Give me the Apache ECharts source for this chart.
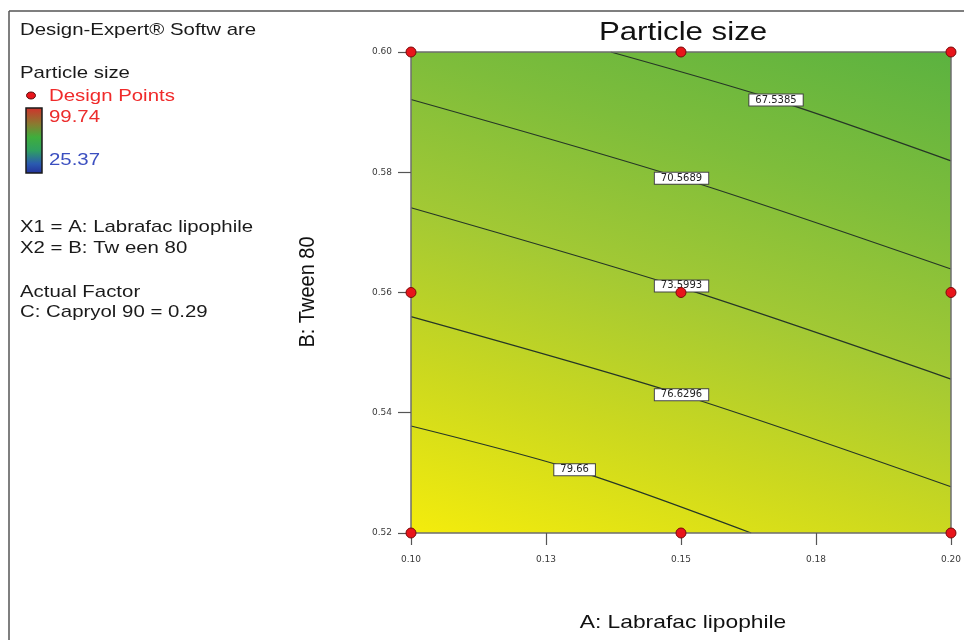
<!DOCTYPE html>
<html>
<head>
<meta charset="utf-8">
<style>
  html, body { margin: 0; padding: 0; background: #fff; }
  #chart { width: 964px; height: 640px; }
</style>
<script src="https://cdn.jsdelivr.net/npm/echarts/dist/echarts.min.js"></script>
</head>
<body>
<div id="chart"></div>
<script>
// Factor ranges and axis ticks
const xRange = [0.10, 0.20];
const yRange = [0.52, 0.60];
const xTickLabels = ['0.10', '0.13', '0.15', '0.18', '0.20'];
const yTickLabels = ['0.52', '0.54', '0.56', '0.58', '0.60'];

// Response scale shown in the side legend
const responseHigh = '99.74';
const responseLow = '25.37';

// Contour levels of Particle size, each traced as (A, B) points
const contourLevels = ['67.5385', '70.5689', '73.5993', '76.6296', '79.66'];
const contour1 = [[0.1370, 0.6000], [0.1676, 0.5920], [0.2000, 0.5819]];
const contour2 = [[0.1000, 0.5921], [0.1501, 0.5790], [0.2000, 0.5639]];
const contour3 = [[0.1000, 0.5741], [0.1501, 0.5608], [0.2000, 0.5456]];
const contour4 = [[0.1000, 0.5560], [0.1501, 0.5430], [0.2000, 0.5277]];
const contour5 = [[0.1000, 0.5378], [0.1303, 0.5305], [0.1630, 0.5200]];
const contourLabelAt = [[0.1676, 0.5920], [0.1501, 0.5790], [0.1501, 0.5611], [0.1501, 0.5430], [0.1303, 0.5305]];

// Design points (A: Labrafac lipophile, B: Tween 80)
const designPoints = [
  [0.10, 0.60], [0.15, 0.60], [0.20, 0.60],
  [0.10, 0.56], [0.15, 0.56], [0.20, 0.56],
  [0.10, 0.52], [0.15, 0.52], [0.20, 0.52]
];

const contours = [contour1, contour2, contour3, contour4, contour5];
const SANS = '"Liberation Sans", Arial, sans-serif';
const STRETCH = 1.2;

const chart = echarts.init(document.getElementById('chart'));

function sideText(x, y, text, size, color) {
  return {
    type: 'text', x: x, y: y, scaleX: STRETCH, z: 10,
    style: {
      text: text, fill: color, font: size + 'px ' + SANS,
      textAlign: 'left', align: 'left',
      textVerticalAlign: 'middle', verticalAlign: 'middle'
    }
  };
}

function tickFormatter(labels, start, step) {
  return function (v) {
    const idx = Math.round((v - start) / step);
    return labels[idx] !== undefined ? labels[idx] : '';
  };
}

const option = {
  animation: false,
  backgroundColor: '#ffffff',
  grid: { left: 411, top: 52, right: 7, bottom: 107, containLabel: false },
  xAxis: [{
    type: 'value', min: xRange[0], max: xRange[1], interval: 0.025, z: 5,
    axisLine: { show: true, lineStyle: { color: '#6e6e6e', width: 1.5 } },
    axisTick: { show: true, length: 12, lineStyle: { color: '#555', width: 1.2 } },
    axisLabel: { margin: 22, fontSize: 9, fontFamily: '"DejaVu Sans", sans-serif', color: '#3a3a3a',
      formatter: tickFormatter(xTickLabels, xRange[0], 0.025) },
    splitLine: { show: false }
  }, {
    type: 'value', position: 'top', min: xRange[0], max: xRange[1], z: 5,
    axisLine: { show: true, onZero: false, lineStyle: { color: '#6e6e6e', width: 1.5 } },
    axisTick: { show: false }, axisLabel: { show: false }, splitLine: { show: false }
  }],
  yAxis: [{
    type: 'value', min: yRange[0], max: yRange[1], interval: 0.02, z: 5,
    axisLine: { show: true, lineStyle: { color: '#6e6e6e', width: 1.5 } },
    axisTick: { show: true, length: 13, lineStyle: { color: '#555', width: 1.2 } },
    axisLabel: { margin: 19, fontSize: 9, fontFamily: '"DejaVu Sans", sans-serif', color: '#3a3a3a',
      formatter: tickFormatter(yTickLabels, yRange[0], 0.02) },
    splitLine: { show: false }
  }, {
    type: 'value', position: 'right', min: yRange[0], max: yRange[1], z: 5,
    axisLine: { show: true, onZero: false, lineStyle: { color: '#6e6e6e', width: 1.5 } },
    axisTick: { show: false }, axisLabel: { show: false }, splitLine: { show: false }
  }],
  series: [
    // Shaded response surface: yellow (high) to green (low), running across the contours
    {
      type: 'custom', z: 1, silent: true,
      data: [[xRange[0], yRange[0]]],
      renderItem: function (params, api) {
        const p0 = api.coord([xRange[0], yRange[0]]);
        const p1 = api.coord([xRange[1], yRange[1]]);
        const w = p1[0] - p0[0];
        const h = p0[1] - p1[1];
        const nx = 0.31, ny = -1, nl = Math.hypot(nx, ny);
        const ux = nx / nl, uy = ny / nl;
        const L = w * ux + (-h) * uy;
        return {
          type: 'rect',
          shape: { x: p0[0], y: p1[1], width: w, height: h },
          style: {
            fill: new echarts.graphic.LinearGradient(
              p0[0], p0[1], p0[0] + ux * L, p0[1] + uy * L,
              [
                { offset: 0.00, color: '#f4ec0c' },
                { offset: 0.26, color: '#cbd81f' },
                { offset: 0.50, color: '#a3c934' },
                { offset: 0.74, color: '#7ebd3b' },
                { offset: 1.00, color: '#5bb240' }
              ], true)
          }
        };
      }
    }
  ].concat(contours.map(function (pts) {
    return {
      type: 'line', z: 2, silent: true, data: pts, smooth: 0.3,
      symbol: 'none', xAxisIndex: 0, yAxisIndex: 0,
      lineStyle: { color: '#263626', width: 1.2 }
    };
  })).concat([
    // contour value tags
    {
      type: 'scatter', z: 3, silent: true, clip: false,
      symbol: 'rect', symbolSize: 1, itemStyle: { color: 'rgba(0,0,0,0)' },
      data: contourLabelAt.map(function (p, i) { return { value: p, name: contourLevels[i] }; }),
      label: {
        show: true, position: 'inside', formatter: '{b}', opacity: 1,
        fontSize: 10, fontFamily: '"DejaVu Sans", sans-serif', color: '#222',
        backgroundColor: '#ffffff', borderColor: '#444', borderWidth: 1,
        padding: [1, 6, 0, 6]
      }
    },
    {
      type: 'scatter', z: 10, silent: true, clip: false,
      symbol: 'circle', symbolSize: 10,
      itemStyle: { color: '#e8151b', borderColor: '#7a0a0a', borderWidth: 1, opacity: 1 },
      data: designPoints
    }
  ]),
  graphic: [
    // page frame
    { type: 'line', z: 1, shape: { x1: 9, y1: 11, x2: 9, y2: 640 }, style: { stroke: '#555', lineWidth: 1.5 } },
    { type: 'line', z: 1, shape: { x1: 9, y1: 11, x2: 964, y2: 11 }, style: { stroke: '#555', lineWidth: 1.5 } },
    // legend panel
    sideText(20, 30, 'Design-Expert® Softw are', 17, '#1a1a1a'),
    sideText(20, 73, 'Particle size', 17, '#1a1a1a'),
    { type: 'ellipse', z: 10, shape: { cx: 31, cy: 95.5, rx: 4.5, ry: 3.5 },
      style: { fill: '#e8151b', stroke: '#5a0a0a', lineWidth: 1 } },
    sideText(49, 96, 'Design Points', 17, '#f02a2a'),
    { type: 'rect', z: 10, shape: { x: 26, y: 108, width: 16, height: 65 },
      style: {
        fill: new echarts.graphic.LinearGradient(0, 0, 0, 1, [
          { offset: 0.00, color: '#d2302c' },
          { offset: 0.25, color: '#8a7a30' },
          { offset: 0.45, color: '#3fae3c' },
          { offset: 0.65, color: '#2fa060' },
          { offset: 0.85, color: '#2a5ab0' },
          { offset: 1.00, color: '#23309a' }
        ]),
        stroke: '#1a1a1a', lineWidth: 1.5
      } },
    sideText(49, 117, responseHigh, 17, '#ec2d2d'),
    sideText(49, 160, responseLow, 17, '#3b4fc0'),
    sideText(20, 227, 'X1 = A: Labrafac lipophile', 17, '#1a1a1a'),
    sideText(20, 248, 'X2 = B: Tw een 80', 17, '#1a1a1a'),
    sideText(20, 292, 'Actual Factor', 17, '#1a1a1a'),
    sideText(20, 312, 'C: Capryol 90 = 0.29', 17, '#1a1a1a'),
    // chart title and axis names
    { type: 'text', x: 683, y: 33, scaleX: STRETCH, z: 10,
      style: { text: 'Particle size', fill: '#111', font: '26px ' + SANS,
        textAlign: 'center', align: 'center', textVerticalAlign: 'middle', verticalAlign: 'middle' } },
    { type: 'text', x: 683, y: 623, scaleX: STRETCH, z: 10,
      style: { text: 'A: Labrafac lipophile', fill: '#111', font: '19px ' + SANS,
        textAlign: 'center', align: 'center', textVerticalAlign: 'middle', verticalAlign: 'middle' } },
    { type: 'text', x: 308, y: 292, rotation: Math.PI / 2, scaleY: 1.1, z: 10,
      style: { text: 'B: Tween 80', fill: '#111', font: '20px ' + SANS,
        textAlign: 'center', align: 'center', textVerticalAlign: 'middle', verticalAlign: 'middle' } }
  ]
};

chart.setOption(option);
</script>
</body>
</html>
